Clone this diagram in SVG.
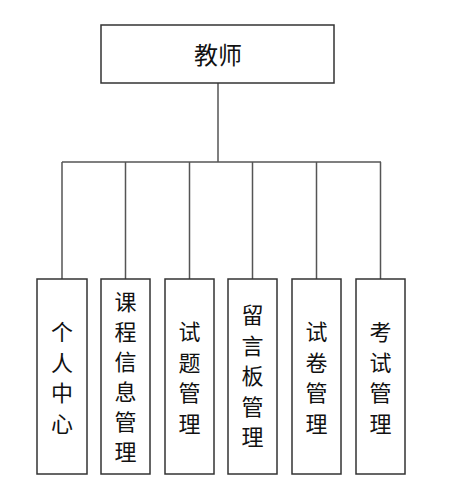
<svg xmlns="http://www.w3.org/2000/svg" width="458" height="504" viewBox="0 0 458 504">
<style>
.box{fill:#fff;stroke:#333;stroke-width:1.5}
.ln{fill:none;stroke:#555;stroke-width:1.5}
.t{font-family:"Noto Sans CJK SC","Liberation Sans",sans-serif;font-size:22px;fill:#111;text-anchor:middle;dominant-baseline:central}
</style>
<rect width="458" height="504" fill="#fff"/>
<g id="connectors">
<path class="ln" d="M218 83V162M62 162H381M62 162V279M125.5 162V279M189.5 162V279M252.5 162V279M316.5 162V279M380.5 162V279"/>
</g>
<g id="teacher"><rect class="box" x="101" y="25" width="233" height="58"/><text class="t" x="218" y="53" style="font-size:24px">教师</text></g>
<g id="n1"><rect class="box" x="37" y="279" width="50" height="195"/><text class="t"><tspan x="62" y="330">个</tspan><tspan x="62" y="360.5">人</tspan><tspan x="62" y="391">中</tspan><tspan x="62" y="421.5">心</tspan></text></g>
<g id="n2"><rect class="box" x="101" y="279" width="49" height="195"/><text class="t"><tspan x="125.5" y="300">课</tspan><tspan x="125.5" y="330">程</tspan><tspan x="125.5" y="360">信</tspan><tspan x="125.5" y="390">息</tspan><tspan x="125.5" y="420">管</tspan><tspan x="125.5" y="450">理</tspan></text></g>
<g id="n3"><rect class="box" x="165" y="279" width="49" height="195"/><text class="t"><tspan x="189.5" y="330">试</tspan><tspan x="189.5" y="360.5">题</tspan><tspan x="189.5" y="391">管</tspan><tspan x="189.5" y="421.5">理</tspan></text></g>
<g id="n4"><rect class="box" x="228" y="279" width="49" height="195"/><text class="t"><tspan x="252.5" y="313">留</tspan><tspan x="252.5" y="343.5">言</tspan><tspan x="252.5" y="374">板</tspan><tspan x="252.5" y="404.5">管</tspan><tspan x="252.5" y="435">理</tspan></text></g>
<g id="n5"><rect class="box" x="292" y="279" width="49" height="195"/><text class="t"><tspan x="316.5" y="330">试</tspan><tspan x="316.5" y="360.5">卷</tspan><tspan x="316.5" y="391">管</tspan><tspan x="316.5" y="421.5">理</tspan></text></g>
<g id="n6"><rect class="box" x="356" y="279" width="49" height="195"/><text class="t"><tspan x="380.5" y="330">考</tspan><tspan x="380.5" y="360.5">试</tspan><tspan x="380.5" y="391">管</tspan><tspan x="380.5" y="421.5">理</tspan></text></g>
</svg>
